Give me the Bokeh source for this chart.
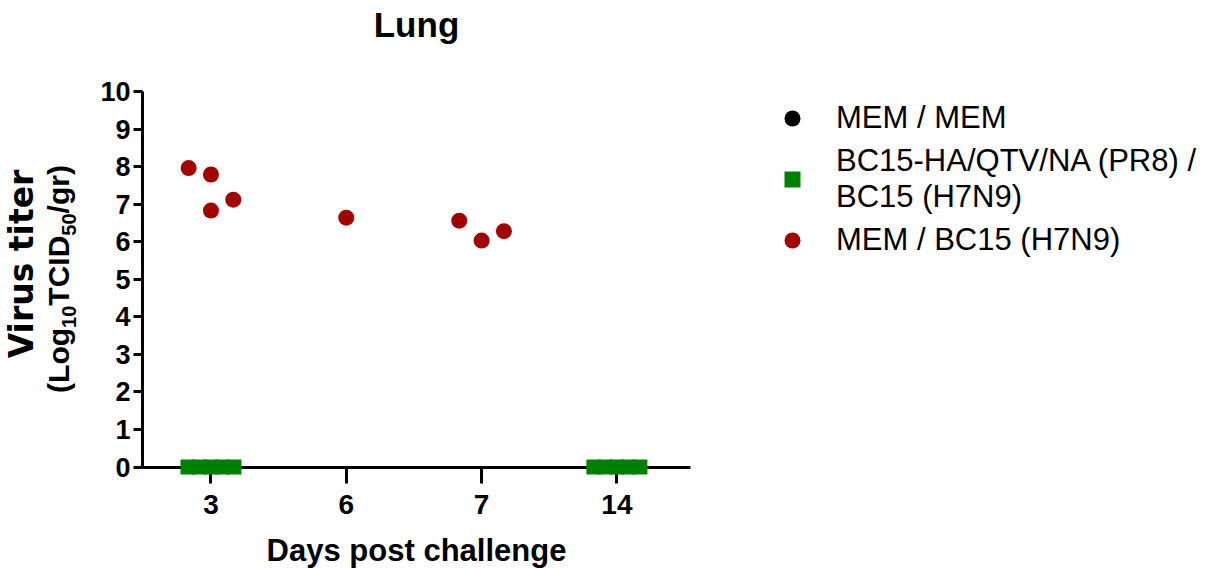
import math
from bokeh.plotting import figure
from bokeh.models import Range1d, FixedTicker, Legend, LegendItem, ColumnDataSource, Label
from bokeh.embed import file_html
from bokeh.resources import INLINE

# ---------------- data ----------------
title_text = "Lung"
x_title = "Days post challenge"
y_title_line1 = "Virus titer"
y_title_line2 = [("(Log", False), ("10", True), ("TCID", False), ("50", True), ("/gr)", False)]
days = ["3", "6", "7", "14"]
y_ticks = [0, 1, 2, 3, 4, 5, 6, 7, 8, 9, 10]

series_names = ["MEM / MEM",
                "BC15-HA/QTV/NA (PR8) /\nBC15 (H7N9)",
                "MEM / BC15 (H7N9)"]

# MEM / MEM (no visible points in the chart)
mem_mem_day = ["3"]
mem_mem_jitter = [0.0]
mem_mem_titer = [float("nan")]

# BC15-HA/QTV/NA (PR8) / BC15 (H7N9)  -> all at 0
bc15_day = ["3", "3", "3", "3", "3", "14", "14", "14", "14", "14"]
bc15_jitter = [-0.17, -0.085, 0.0, 0.085, 0.17, -0.17, -0.085, 0.0, 0.085, 0.17]
bc15_titer = [0, 0, 0, 0, 0, 0, 0, 0, 0, 0]

# MEM / BC15 (H7N9)
membc_day = ["3", "3", "3", "3", "6", "7", "7", "7"]
membc_jitter = [-0.165, 0.0, 0.0, 0.165, 0.0, -0.165, 0.0, 0.165]
membc_titer = [7.96, 7.79, 6.83, 7.12, 6.64, 6.56, 6.03, 6.28]

colors = ["#000000", "#008000", "#A30000"]

# ---------------- geometry (frame = whole canvas, axes at fixed locations) ----------------
FONT = "Liberation Sans"
W, H = 1212, 568
AXIS_X_PX = 142.0                     # pixel of the y axis line
Y_ZERO_PX, Y_TEN_PX = 466.5, 91.0
PX_PER_Y = (Y_ZERO_PX - Y_TEN_PX) / 10.0
X0, X_AXIS_END = -0.506, 3.544
PX_PER_X = (690 - AXIS_X_PX) / (X_AXIS_END - X0)

x_start = X0 - AXIS_X_PX / PX_PER_X
x_end = X0 + (W - AXIS_X_PX) / PX_PER_X
y_start = -(H - Y_ZERO_PX) / PX_PER_Y
y_end = 10 + Y_TEN_PX / PX_PER_Y

p = figure(width=W, height=H, output_backend="svg", toolbar_location=None,
           title=None,
           x_range=Range1d(x_start, x_end), y_range=Range1d(y_start, y_end),
           min_border=0)
p.outline_line_color = None
p.grid.visible = False
p.background_fill_color = "white"
p.border_fill_color = "white"


def xpos(day_list, jitter):
    return [days.index(d) + j for d, j in zip(day_list, jitter)]


src0 = ColumnDataSource(dict(x=xpos(mem_mem_day, mem_mem_jitter), y=mem_mem_titer))
src1 = ColumnDataSource(dict(x=xpos(bc15_day, bc15_jitter), y=bc15_titer))
src2 = ColumnDataSource(dict(x=xpos(membc_day, membc_jitter), y=membc_titer))

r0 = p.scatter("x", "y", source=src0, marker="circle", size=16,
               fill_color=colors[0], line_color=None, level="overlay")
r1 = p.scatter("x", "y", source=src1, marker="square", size=15,
               fill_color=colors[1], line_color=None, level="overlay")
r2 = p.scatter("x", "y", source=src2, marker="circle", size=16,
               fill_color=colors[2], line_color=None, level="overlay")

# ---------------- x axis ----------------
xa = p.xaxis[0]
xa.fixed_location = 0
xa.bounds = (X0, X_AXIS_END)
xa.ticker = FixedTicker(ticks=list(range(len(days))))
xa.major_label_overrides = {i: d for i, d in enumerate(days)}
xa.minor_tick_line_color = None
xa.axis_line_width = 3
xa.major_tick_line_width = 3
xa.major_tick_out = 16
xa.major_tick_in = 0
xa.major_label_standoff = 12
xa.major_label_text_font = FONT
xa.major_label_text_font_style = "bold"
xa.major_label_text_font_size = "28px"
xa.major_label_text_color = "black"

# ---------------- y axis ----------------
ya = p.yaxis[0]
ya.fixed_location = X0
ya.bounds = (0, 10)
ya.ticker = FixedTicker(ticks=y_ticks)
ya.minor_tick_line_color = None
ya.axis_line_width = 3
ya.major_tick_line_width = 3
ya.major_tick_out = 9
ya.major_tick_in = 0
ya.major_label_standoff = 3
ya.major_label_text_font = FONT
ya.major_label_text_font_style = "bold"
ya.major_label_text_font_size = "27px"
ya.major_label_text_color = "black"

# ---------------- texts ----------------
BASE_FIX = 0.36   # measured offset of the rendered alphabetic baseline, in em


def label(text, cx, cy, size, font=FONT, align="center", angle=0.0):
    """cx, cy: canvas px (y down) of the wanted text baseline anchor."""
    if angle == 0.0:
        cy = cy - BASE_FIX * size
    else:
        cx = cx - BASE_FIX * size
    p.add_layout(Label(x=cx, y=H - cy, x_units="screen", y_units="screen",
                       text=text, text_align=align, text_baseline="alphabetic",
                       angle=angle, text_font=font, text_font_style="bold",
                       text_font_size=f"{size}px", text_color="black"))


label(title_text, 416, 36.7, 35)
label(x_title, 416, 561, 31)

ANG = math.pi / 2
label(y_title_line1, 33.3, 263.5, 33, font="DejaVu Sans", angle=ANG)

AW = {"(": 333, ")": 333, "L": 611, "o": 611, "g": 611, "1": 556, "0": 556,
      "5": 556, "T": 611, "C": 722, "I": 278, "D": 722, "/": 278, "r": 389}
MAIN, SUB = 30, 20
widths = [sum(AW[c] for c in t) * (SUB if sub else MAIN) / 1000 for t, sub in y_title_line2]
pos = 278.5 + sum(widths) / 2
for (t, sub), w in zip(y_title_line2, widths):
    label(t, 68.3 + (7 if sub else 0), pos, SUB if sub else MAIN, align="left", angle=ANG)
    pos -= w

# ---------------- legend ----------------
items = [LegendItem(label=series_names[i], renderers=[r]) for i, r in enumerate([r0, r1, r2])]
legend = Legend(items=items, location=(772, 308),
                glyph_width=40, glyph_height=40, label_standoff=24,
                spacing=5, padding=0, margin=0,
                label_text_font=FONT, label_text_font_size="31px",
                label_text_color="black",
                border_line_color=None, background_fill_alpha=0)
p.add_layout(legend, "center")

open("out.html", "w").write(file_html(p, INLINE))
